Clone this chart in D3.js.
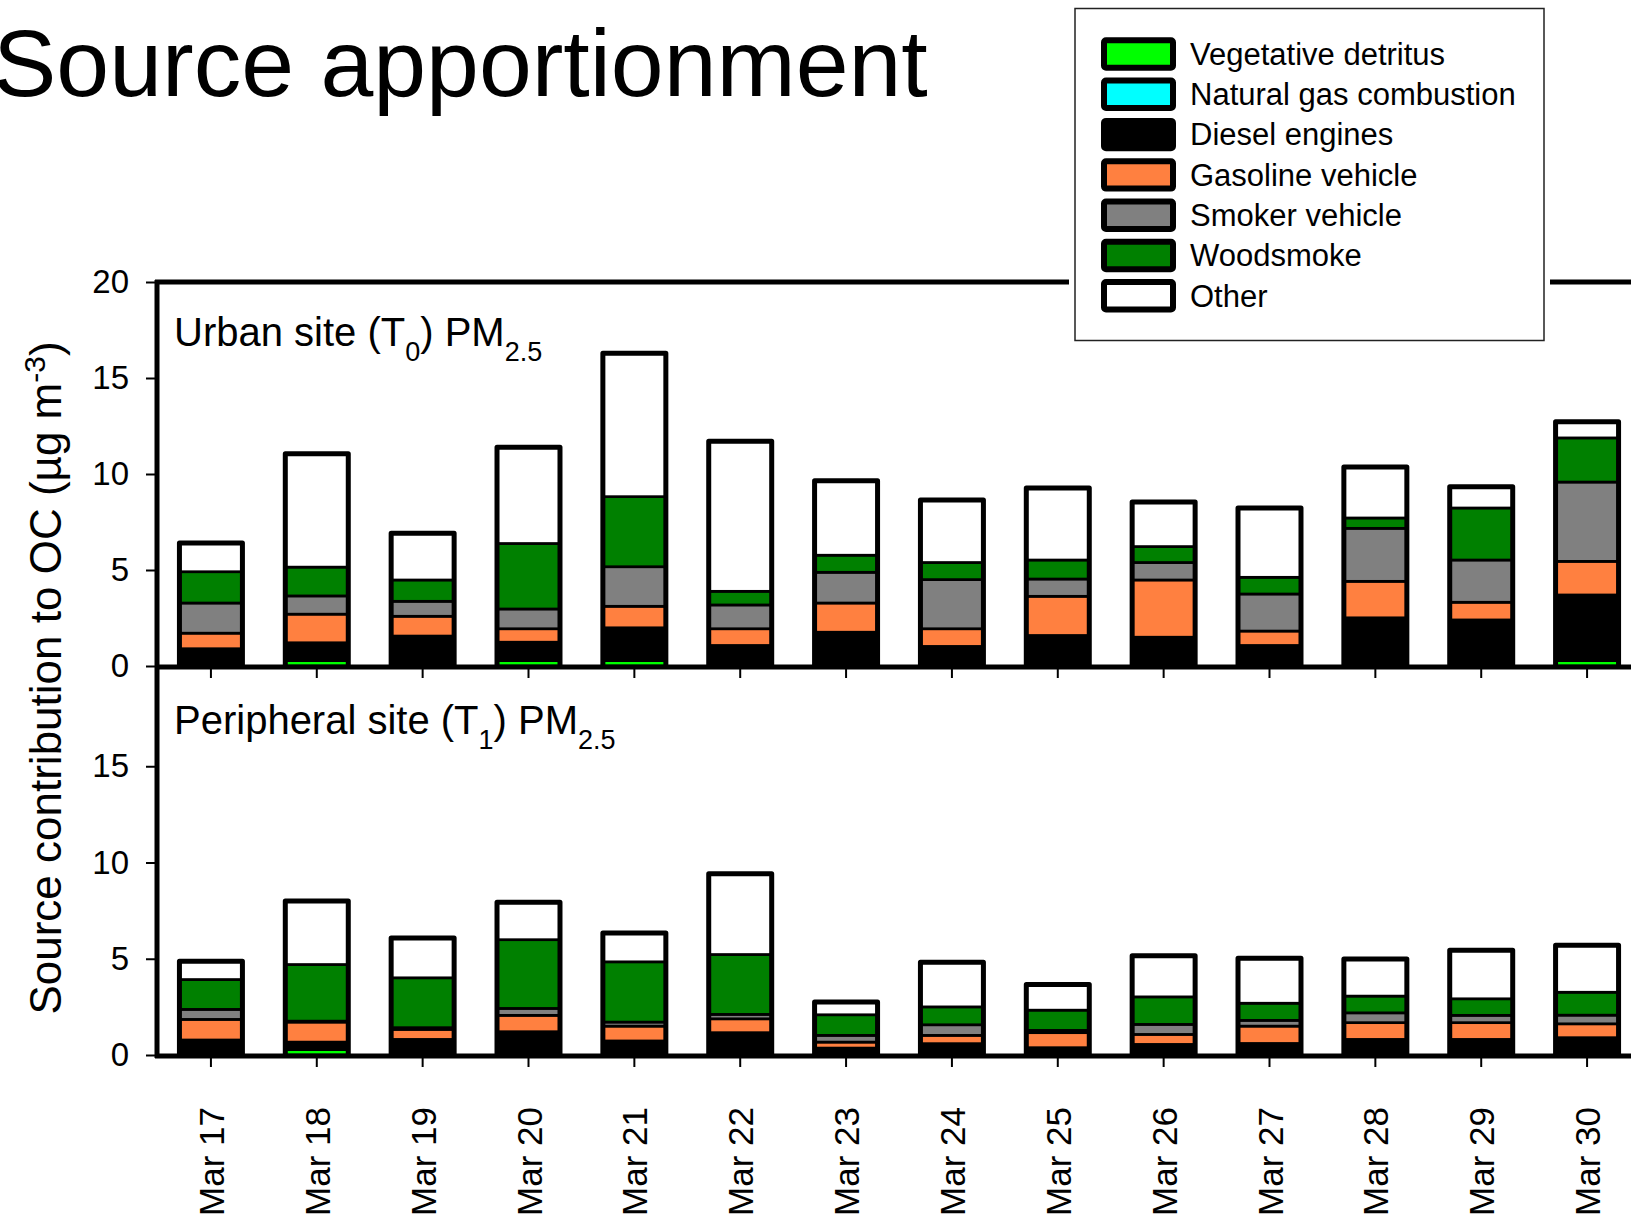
<!DOCTYPE html>
<html>
<head>
<meta charset="utf-8">
<script src="https://cdn.jsdelivr.net/npm/d3@7"></script>
<style>
body { margin: 0; background: #fff; overflow: hidden; }
svg { display: block; font-family: "Liberation Sans", Arial, sans-serif; }
</style>
</head>
<body>
<div id="chart"></div>
<script>
var dates = ['Mar 17','Mar 18','Mar 19','Mar 20','Mar 21','Mar 22','Mar 23',
             'Mar 24','Mar 25','Mar 26','Mar 27','Mar 28','Mar 29','Mar 30'];
var sources = ['Vegetative detritus','Natural gas combustion','Diesel engines',
               'Gasoline vehicle','Smoker vehicle','Woodsmoke','Other'];
var colors = ['#00ff00','#00ffff','#000000','#ff8040','#808080','#008000','#ffffff'];
var yTicks = [0, 5, 10, 15, 20];

// urban site (T0), ug/m3
var urbanVeg    = [0, 0.28, 0, 0.28, 0.28, 0, 0, 0, 0, 0, 0, 0, 0, 0.28];
var urbanNatGas = [0, 0, 0, 0, 0, 0, 0, 0, 0, 0, 0, 0, 0, 0];
var urbanDiesel = [0.90, 0.93, 1.56, 0.96, 1.71, 1.07, 1.76, 1.02, 1.59, 1.50, 1.07, 2.51, 2.40, 3.42];
var urbanGasol  = [0.81, 1.49, 1.03, 0.70, 1.12, 0.87, 1.52, 0.92, 2.04, 2.98, 0.75, 1.90, 0.92, 1.75];
var urbanSmoker = [1.57, 0.95, 0.78, 1.03, 2.06, 1.24, 1.60, 2.56, 0.90, 0.91, 1.93, 2.76, 2.20, 4.13];
var urbanWood   = [1.63, 1.50, 1.11, 3.41, 3.65, 0.71, 0.89, 0.89, 0.99, 0.83, 0.87, 0.54, 2.71, 2.30];
var urbanOther  = [1.49, 5.90, 2.44, 5.01, 7.47, 7.81, 3.88, 3.25, 3.75, 2.32, 3.61, 2.66, 1.11, 0.84];

// peripheral site (T1), ug/m3
var periVeg    = [0, 0.28, 0, 0, 0, 0, 0, 0, 0, 0, 0, 0, 0, 0];
var periNatGas = [0, 0, 0, 0, 0, 0, 0, 0, 0, 0, 0, 0, 0, 0];
var periDiesel = [0.78, 0.39, 0.81, 1.21, 0.73, 1.16, 0.36, 0.59, 0.38, 0.55, 0.60, 0.81, 0.81, 0.90];
var periGasol  = [1.07, 1.04, 0.52, 0.85, 0.77, 0.72, 0.31, 0.43, 0.78, 0.52, 0.90, 0.87, 0.87, 0.72];
var periSmoker = [0.52, 0.05, 0.09, 0.36, 0.21, 0.23, 0.35, 0.55, 0.12, 0.52, 0.30, 0.51, 0.38, 0.45];
var periWood   = [1.55, 2.94, 2.59, 3.57, 3.13, 3.11, 1.07, 0.93, 1.05, 1.43, 0.89, 0.87, 0.86, 1.19];
var periOther  = [0.95, 3.30, 2.07, 1.94, 1.50, 4.19, 0.66, 2.32, 1.33, 2.14, 2.34, 1.93, 2.52, 2.44];

var urban = [urbanVeg, urbanNatGas, urbanDiesel, urbanGasol, urbanSmoker, urbanWood, urbanOther];
var peri  = [periVeg, periNatGas, periDiesel, periGasol, periSmoker, periWood, periOther];

var W = 1631, H = 1219;
var svg = d3.select('#chart').append('svg')
  .attr('width', W)
  .attr('height', H);

var x = d3.scaleBand()
  .domain(dates)
  .range([158, 1640])
  .paddingInner(0.405)
  .paddingOuter(0.2025);

var color = d3.scaleOrdinal().domain(sources).range(colors);

function toRows(series) {
  return dates.map(function(d, i) {
    var row = { date: d };
    sources.forEach(function(s, k) { row[s] = series[k][i]; });
    return row;
  });
}

var stack = d3.stack().keys(sources);

function drawPanel(series, yTop, yBottom, labelMain, labelSub, tickVals) {
  var y = d3.scaleLinear().domain([0, 20]).range([yBottom, yTop]);
  var g = svg.append('g');
  var layers = stack(toRows(series));

  // segments
  g.selectAll('.layer')
    .data(layers)
    .enter().append('g')
    .attr('class', 'layer')
    .attr('fill', function(d) { return color(d.key); })
    .selectAll('rect')
    .data(function(d) { return d.filter(function(p) { return p[1] - p[0] > 0; }); })
    .enter().append('rect')
    .attr('x', function(p) { return x(p.data.date); })
    .attr('width', x.bandwidth())
    .attr('y', function(p) { return y(p[1]); })
    .attr('height', function(p) { return y(p[0]) - y(p[1]); })
    .attr('stroke', '#000')
    .attr('stroke-width', 2.7);

  // veg detritus sits at the very bottom: redraw it without a stroke so the thin line shows
  g.selectAll('.veg')
    .data(layers[0].filter(function(p) { return p[1] - p[0] > 0; }))
    .enter().append('rect')
    .attr('class', 'veg')
    .attr('x', function(p) { return x(p.data.date) + 2.5; })
    .attr('width', x.bandwidth() - 5)
    .attr('y', function(p) { return y(p[1]) + 1.4; })
    .attr('height', 1.8)
    .attr('fill', color(sources[0]));

  // thick outline round each whole bar (open at the bottom, the axis closes it)
  var top = layers[layers.length - 1];
  g.selectAll('.outline')
    .data(top)
    .enter().append('path')
    .attr('class', 'outline')
    .attr('d', function(p) {
      var x0 = x(p.data.date), x1 = x0 + x.bandwidth(), yt = y(p[1]);
      return 'M' + x0 + ',' + y(0) + 'V' + yt + 'H' + x1 + 'V' + y(0);
    })
    .attr('fill', 'none')
    .attr('stroke', '#000')
    .attr('stroke-width', 5)
    .attr('stroke-linejoin', 'round');

  // y axis ticks
  var yAxis = d3.axisLeft(y).tickValues(tickVals).tickSize(11).tickPadding(17);
  var ya = g.append('g').attr('transform', 'translate(157,0)').call(yAxis);
  ya.select('.domain').remove();
  ya.selectAll('line').attr('stroke-width', 2);
  ya.selectAll('text').attr('font-size', 33).attr('fill', '#000')
    .attr('font-family', '"Liberation Sans", Arial, sans-serif');

  // x ticks (no labels)
  var xAxis = d3.axisBottom(x).tickSize(9).tickFormat('');
  var xa = g.append('g').attr('transform', 'translate(0,' + (yBottom + 3) + ')').call(xAxis);
  xa.select('.domain').remove();
  xa.selectAll('line').attr('stroke-width', 2);

  // bottom axis line
  g.append('line')
    .attr('x1', 155).attr('x2', 1640)
    .attr('y1', yBottom + 1).attr('y2', yBottom + 1)
    .attr('stroke', '#000').attr('stroke-width', 5);

  // panel label
  var lab = g.append('text')
    .attr('x', 174)
    .attr('y', yTop + 64)
    .attr('font-size', 40)
    .attr('fill', '#000');
  lab.append('tspan').text(labelMain[0]);
  lab.append('tspan').attr('baseline-shift', 'sub').attr('font-size', 27).text(labelSub[0]);
  lab.append('tspan').text(labelMain[1]);
  lab.append('tspan').attr('baseline-shift', 'sub').attr('font-size', 27).text(labelSub[1]);

  return y;
}

drawPanel(urban, 282, 666, ['Urban site (T', ') PM'], ['0', '2.5'], yTicks);
drawPanel(peri, 670, 1055, ['Peripheral site (T', ') PM'], ['1', '2.5'], [0, 5, 10, 15]);

// top frame and left axis
svg.append('line')
  .attr('x1', 155).attr('x2', 1640)
  .attr('y1', 282).attr('y2', 282)
  .attr('stroke', '#000').attr('stroke-width', 5);
svg.append('line')
  .attr('x1', 157).attr('x2', 157)
  .attr('y1', 280).attr('y2', 1058)
  .attr('stroke', '#000').attr('stroke-width', 5);

// date labels
svg.selectAll('.date')
  .data(dates)
  .enter().append('text')
  .attr('class', 'date')
  .attr('transform', function(d) {
    return 'translate(' + (x(d) + x.bandwidth() / 2 + 13) + ',1107) rotate(-90)';
  })
  .attr('text-anchor', 'end')
  .attr('font-size', 35)
  .text(function(d) { return d; });

// y title
var yt = svg.append('text')
  .attr('transform', 'translate(61,678) rotate(-90)')
  .attr('text-anchor', 'middle')
  .attr('font-size', 44);
yt.append('tspan').text('Source contribution to OC (\u00b5g m');
yt.append('tspan').attr('baseline-shift', 'super').attr('font-size', 30).text('-3');
yt.append('tspan').text(')');

// title
svg.append('text')
  .attr('x', -7)
  .attr('y', 96)
  .attr('font-size', 95)
  .text('Source apportionment');

// legend
var leg = svg.append('g');
leg.append('rect')
  .attr('x', 1069).attr('y', 2).attr('width', 481).attr('height', 345)
  .attr('fill', '#fff');
leg.append('rect')
  .attr('x', 1075).attr('y', 8.5).attr('width', 469).attr('height', 332)
  .attr('fill', '#fff').attr('stroke', '#222').attr('stroke-width', 1.5);

var items = leg.selectAll('.item')
  .data(sources)
  .enter().append('g')
  .attr('class', 'item')
  .attr('transform', function(d, i) { return 'translate(0,' + (54 + i * 40.3) + ')'; });
items.append('rect')
  .attr('x', 1104).attr('y', -13.7).attr('width', 69).attr('height', 27.4)
  .attr('rx', 2)
  .attr('fill', function(d) { return color(d); })
  .attr('stroke', '#000').attr('stroke-width', 6).attr('stroke-linejoin', 'round');
items.append('text')
  .attr('x', 1190).attr('y', 0).attr('dy', '0.35em')
  .attr('font-size', 31)
  .text(function(d) { return d; });
</script>
</body>
</html>
